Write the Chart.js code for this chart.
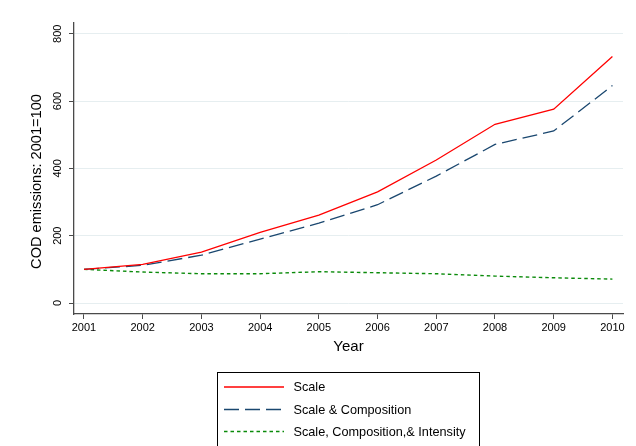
<!DOCTYPE html>
<html>
<head>
<meta charset="utf-8">
<script src="https://cdn.jsdelivr.net/npm/chart.js@4/dist/chart.umd.min.js"></script>
<style>
  html, body { margin: 0; padding: 0; background: #ffffff; }
  #wrap { width: 636px; height: 446px; position: relative; }
</style>
</head>
<body>
<div id="wrap"><canvas id="c" width="636" height="446"></canvas></div>
<script>
// Years on the horizontal axis
const years = [2001, 2002, 2003, 2004, 2005, 2006, 2007, 2008, 2009, 2010];

// COD emission indices (2001 = 100)
const scaleOnly = [100, 115, 151, 210, 261, 330, 425, 531, 576, 732];
const scaleComposition = [100, 112, 142, 190, 237, 292, 377, 471, 511, 646];
const scaleCompIntensity = [100, 92, 87, 87, 93, 90, 87, 80, 75, 71];

// Tick values
const yTickValues = [0, 200, 400, 600, 800];
const xTickValues = years;

const seriesNames = ['Scale', 'Scale & Composition', 'Scale, Composition,& Intensity'];
const yAxisTitle = 'COD emissions: 2001=100';

const FONT = 'Liberation Sans, Arial, Helvetica, sans-serif';
const axisColor = '#4a4a4a';
const gridColor = '#e6eef0';

function toPoints(vals) {
  return years.map((yr, i) => ({ x: yr, y: vals[i] }));
}

// Vertical axis title, set slightly below the plot's middle
const yTitle = {
  id: 'yTitle',
  afterDraw(chart) {
    const ctx = chart.ctx;
    ctx.save();
    ctx.translate(37, 181.5);
    ctx.rotate(-Math.PI / 2);
    ctx.fillStyle = '#000000';
    ctx.font = '14.6px ' + FONT;
    ctx.textAlign = 'center';
    ctx.textBaseline = 'middle';
    ctx.fillText(yAxisTitle, 0, 0);
    ctx.restore();
  }
};

// Boxed legend drawn under the plot
const boxedLegend = {
  id: 'boxedLegend',
  afterDraw(chart) {
    const ctx = chart.ctx;
    const left = 217.5, top = 372.5, right = 479.5, bottom = 452;
    ctx.save();
    ctx.strokeStyle = '#000000';
    ctx.lineWidth = 1;
    ctx.setLineDash([]);
    ctx.strokeRect(left, top, right - left, bottom - top);
    const rowY = [387, 409.5, 431.5];
    chart.data.datasets.forEach((ds, i) => {
      const y = rowY[i];
      ctx.beginPath();
      ctx.strokeStyle = ds.borderColor;
      ctx.lineWidth = ds.borderWidth;
      ctx.setLineDash(ds.borderDash || []);
      ctx.moveTo(224, y);
      ctx.lineTo(284, y);
      ctx.stroke();
      ctx.setLineDash([]);
      ctx.fillStyle = '#000000';
      ctx.font = '12.7px ' + FONT;
      ctx.textBaseline = 'middle';
      ctx.textAlign = 'left';
      ctx.fillText(ds.label, 293.5, y + 0.5);
    });
    ctx.restore();
  }
};

new Chart(document.getElementById('c'), {
  type: 'line',
  data: {
    datasets: [
      {
        label: seriesNames[0],
        data: toPoints(scaleOnly),
        borderColor: '#ff0000',
        borderWidth: 1.3,
        pointRadius: 0,
        tension: 0,
        fill: false
      },
      {
        label: seriesNames[1],
        data: toPoints(scaleComposition),
        borderColor: '#1a476f',
        borderWidth: 1.3,
        borderDash: [15, 6],
        pointRadius: 0,
        tension: 0,
        fill: false
      },
      {
        label: seriesNames[2],
        data: toPoints(scaleCompIntensity),
        borderColor: '#0a8a0a',
        borderWidth: 1.4,
        borderDash: [3.5, 3],
        pointRadius: 0,
        tension: 0,
        fill: false
      }
    ]
  },
  options: {
    responsive: false,
    animation: false,
    layout: { padding: { left: 28, top: 23, right: 13, bottom: 80 } },
    plugins: {
      legend: { display: false },
      tooltip: { enabled: false }
    },
    scales: {
      x: {
        type: 'linear',
        min: 2000.83,
        max: 2010.18,
        afterBuildTicks: s => { s.ticks = xTickValues.map(v => ({ value: v })); },
        afterFit: s => { s.height = 52; },
        grid: {
          drawOnChartArea: false,
          drawTicks: true,
          tickLength: 5,
          tickColor: axisColor,
          tickWidth: 1
        },
        border: { display: true, color: axisColor, width: 1.3 },
        ticks: {
          autoSkip: false,
          maxRotation: 0,
          minRotation: 0,
          padding: 2,
          color: '#000000',
          font: { family: FONT, size: 11 },
          callback: v => String(v)
        },
        title: {
          display: true,
          text: 'Year',
          color: '#000000',
          font: { family: FONT, size: 15 },
          padding: { top: 0, bottom: 10 }
        }
      },
      y: {
        type: 'linear',
        min: -32.6,
        max: 831.8,
        afterBuildTicks: s => { s.ticks = yTickValues.map(v => ({ value: v })); },
        afterFit: s => { s.width = 46; },
        grid: {
          color: gridColor,
          lineWidth: 1,
          drawTicks: true,
          tickLength: 5,
          tickColor: axisColor,
          tickWidth: 1
        },
        border: { display: true, color: axisColor, width: 1.3 },
        ticks: {
          minRotation: 90,
          maxRotation: 90,
          crossAlign: 'center',
          padding: 2,
          color: '#000000',
          font: { family: FONT, size: 11 },
          callback: v => String(v)
        },
        title: { display: false }
      }
    }
  },
  plugins: [yTitle, boxedLegend]
});
</script>
</body>
</html>
